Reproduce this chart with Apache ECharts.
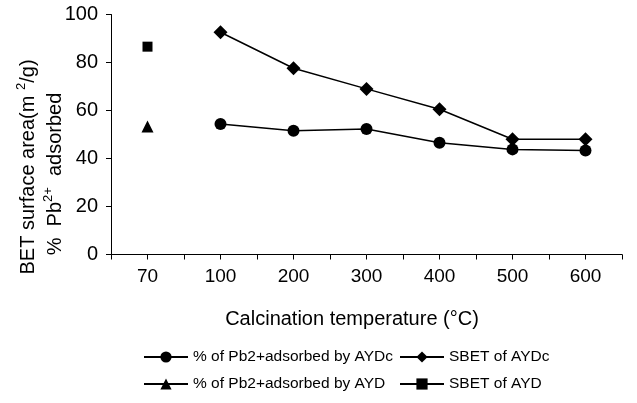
<!DOCTYPE html>
<html>
<head>
<meta charset="utf-8">
<script src="https://cdn.jsdelivr.net/npm/echarts@6/dist/echarts.min.js"></script>
<style>
html,body{margin:0;padding:0;background:#fff;}
#chart{width:637px;height:403px;}
</style>
</head>
<body>
<div id="chart"></div>
<script>
const categories = ['70', '100', '200', '300', '400', '500', '600'];
const pbAYDc = [null, 54.4, 51.6, 52.3, 46.6, 43.8, 43.3];
const sbetAYDc = [null, 92.6, 77.6, 69.0, 60.5, 48.0, 48.0];
const pbAYD = [53.3, null, null, null, null, null, null];
const sbetAYD = [86.6, null, null, null, null, null, null];
const yTicks = [0, 20, 40, 60, 80, 100];

const seriesNames = ['% of Pb2+adsorbed by AYDc', 'SBET of AYDc', '% of Pb2+adsorbed by AYD', 'SBET of AYD'];
const FONT = '"Liberation Sans", Arial, sans-serif';

const chart = echarts.init(document.getElementById('chart'), null, {renderer: 'canvas'});

function lineSeries(name, data, symbol, size) {
  return {
    name: name, type: 'line', data: data, symbol: symbol, symbolSize: size,
    xAxisIndex: 0, yAxisIndex: 0,
    lineStyle: {color: '#000', width: 1.5},
    itemStyle: {color: '#000'},
    animation: false
  };
}

function legendAt(name, left, top) {
  return {
    orient: 'horizontal', left: left, top: top, padding: 0,
    itemWidth: 44, itemHeight: 14, itemGap: 0,
    data: [name],
    textStyle: {color: '#000', fontSize: 15.5, fontFamily: FONT}
  };
}

chart.setOption({
  animation: false,
  backgroundColor: '#fff',
  grid: {left: 111, right: 15, top: 14.5, bottom: 148.5, containLabel: false},
  xAxis: [{
    type: 'category', data: categories, position: 'bottom', boundaryGap: true,
    axisLine: {lineStyle: {color: '#000', width: 1}},
    axisTick: {show: true, interval: 0, length: 5, lineStyle: {color: '#000'}},
    axisLabel: {color: '#000', fontSize: 19, fontFamily: FONT, margin: 13, interval: 0},
    splitLine: {show: false}
  }, {
    type: 'category', data: categories, position: 'bottom', boundaryGap: true,
    axisLine: {show: false},
    axisTick: {show: true, interval: 0, alignWithLabel: true, length: 5, lineStyle: {color: '#000'}},
    axisLabel: {show: false},
    splitLine: {show: false}
  }],
  yAxis: [{
    type: 'value', min: yTicks[0], max: yTicks[yTicks.length - 1], interval: 20,
    axisLine: {show: true, lineStyle: {color: '#000', width: 1}},
    axisTick: {show: true, length: 5, lineStyle: {color: '#000'}},
    axisLabel: {color: '#000', fontSize: 20, fontFamily: FONT, margin: 13},
    splitLine: {show: false}
  }],
  legend: [
    legendAt(seriesNames[0], 143, 349),
    legendAt(seriesNames[1], 399, 349),
    legendAt(seriesNames[2], 143, 376),
    legendAt(seriesNames[3], 399, 376)
  ],
  graphic: [{
    type: 'text', x: 28, y: 167, rotation: Math.PI / 2,
    style: {
      text: '{n|BET surface area(m }{s|2}{n|/g)}',
      align: 'center', verticalAlign: 'middle', fill: '#000',
      rich: {
        n: {fontSize: 20, fontFamily: FONT, lineHeight: 26, fill: '#000'},
        s: {fontSize: 13, fontFamily: FONT, lineHeight: 26, verticalAlign: 'top', fill: '#000'}
      }
    }
  }, {
    type: 'text', x: 55, y: 174, rotation: Math.PI / 2,
    style: {
      text: '{n|%  Pb}{s|2+}{n|  adsorbed}',
      align: 'center', verticalAlign: 'middle', fill: '#000',
      rich: {
        n: {fontSize: 20, fontFamily: FONT, lineHeight: 26, fill: '#000'},
        s: {fontSize: 13, fontFamily: FONT, lineHeight: 26, verticalAlign: 'top', fill: '#000'}
      }
    }
  }, {
    type: 'text', x: 352, y: 319,
    style: {text: 'Calcination temperature (°C)', align: 'center', verticalAlign: 'middle', fill: '#000', fontSize: 20, fontFamily: FONT}
  }],
  series: [
    lineSeries(seriesNames[0], pbAYDc, 'circle', 12),
    lineSeries(seriesNames[1], sbetAYDc, 'diamond', 14),
    lineSeries(seriesNames[2], pbAYD, 'triangle', 12),
    lineSeries(seriesNames[3], sbetAYD, 'rect', 10)
  ]
});
</script>
</body>
</html>
